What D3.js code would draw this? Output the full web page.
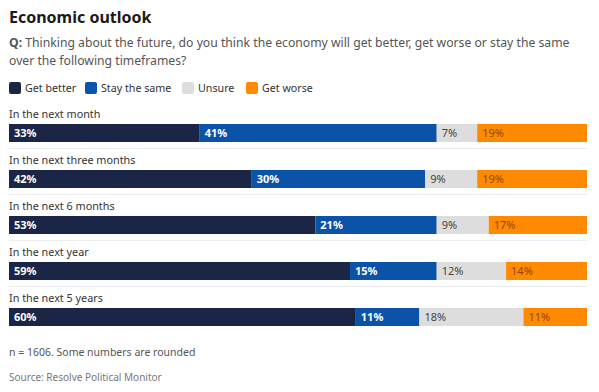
<!DOCTYPE html>
<html><head><meta charset="utf-8">
<script src="https://cdn.jsdelivr.net/npm/d3@7"></script>
<style>
html,body{margin:0;padding:0;background:#fff;}
svg{display:block;font-family:"Noto Sans","Open Sans",sans-serif;}
</style></head>
<body><svg id="c" width="599" height="392"></svg>
<script>
const categories = ["In the next month","In the next three months","In the next 6 months","In the next year","In the next 5 years"];
const seriesNames = ["Get better","Stay the same","Unsure","Get worse"];
const getBetter = [33,42,53,59,60];
const stayTheSame = [41,30,21,15,11];
const unsure = [7,9,9,12,18];
const getWorse = [19,19,17,14,11];
const colors = ["#1b2646","#0a53a8","#dddddd","#ff8a00"];
const textColors = ["#ffffff","#ffffff","#444444","#8f4510"];

const svg = d3.select("#c");
const series = [getBetter, stayTheSame, unsure, getWorse];

svg.append("text").attr("x",9).attr("y",23).attr("font-size",16).attr("font-weight",700).attr("fill","#1a1a1a").text("Economic outlook");
const q = svg.append("text").attr("x",9).attr("y",47).attr("font-size",12.2).attr("fill","#555");
q.append("tspan").attr("font-weight",700).text("Q:");
q.append("tspan").text(" Thinking about the future, do you think the economy will get better, get worse or stay the same");
svg.append("text").attr("x",9).attr("y",65).attr("font-size",12.2).attr("fill","#555").text("over the following timeframes?");

// legend
const legX = [9,85,182,246];
seriesNames.forEach((n,i)=>{
  svg.append("rect").attr("x",legX[i]).attr("y",82).attr("width",12).attr("height",12).attr("rx",2).attr("fill",colors[i]);
  svg.append("text").attr("x",legX[i]+16).attr("y",92).attr("font-size",10.7).attr("fill","#333").text(n);
});

const x = d3.scaleLinear().domain([0,100]).range([9,587]);
const y = d3.scaleBand().domain(categories).range([124,354]).paddingInner(0);
const barH = 18;

categories.forEach((c,ri)=>{
  const top = y(c);
  svg.append("text").attr("x",9).attr("y",top-6).attr("font-size",10.8).attr("fill","#333").text(c);
  let cum = 0;
  series.forEach((s,si)=>{
    const v = s[ri];
    svg.append("rect").attr("x",x(cum)).attr("y",top).attr("width",x(cum+v)-x(cum)).attr("height",barH).attr("fill",colors[si]);
    svg.append("text").attr("x",x(cum)+5).attr("y",top+13).attr("font-size",11)
      .attr("font-weight", si<2?700:400).attr("fill",textColors[si]).text(v+"%");
    cum += v;
  });
  if (ri < categories.length-1)
    svg.append("line").attr("x1",9).attr("x2",587).attr("y1",top+barH+6.5).attr("y2",top+barH+6.5).attr("stroke","#ececec").attr("stroke-width",1);
});

svg.append("text").attr("x",9).attr("y",356).attr("font-size",10.5).attr("fill","#555").text("n = 1606. Some numbers are rounded");
svg.append("text").attr("x",9).attr("y",381).attr("font-size",10).attr("fill","#777").text("Source: Resolve Political Monitor");
</script></body></html>
